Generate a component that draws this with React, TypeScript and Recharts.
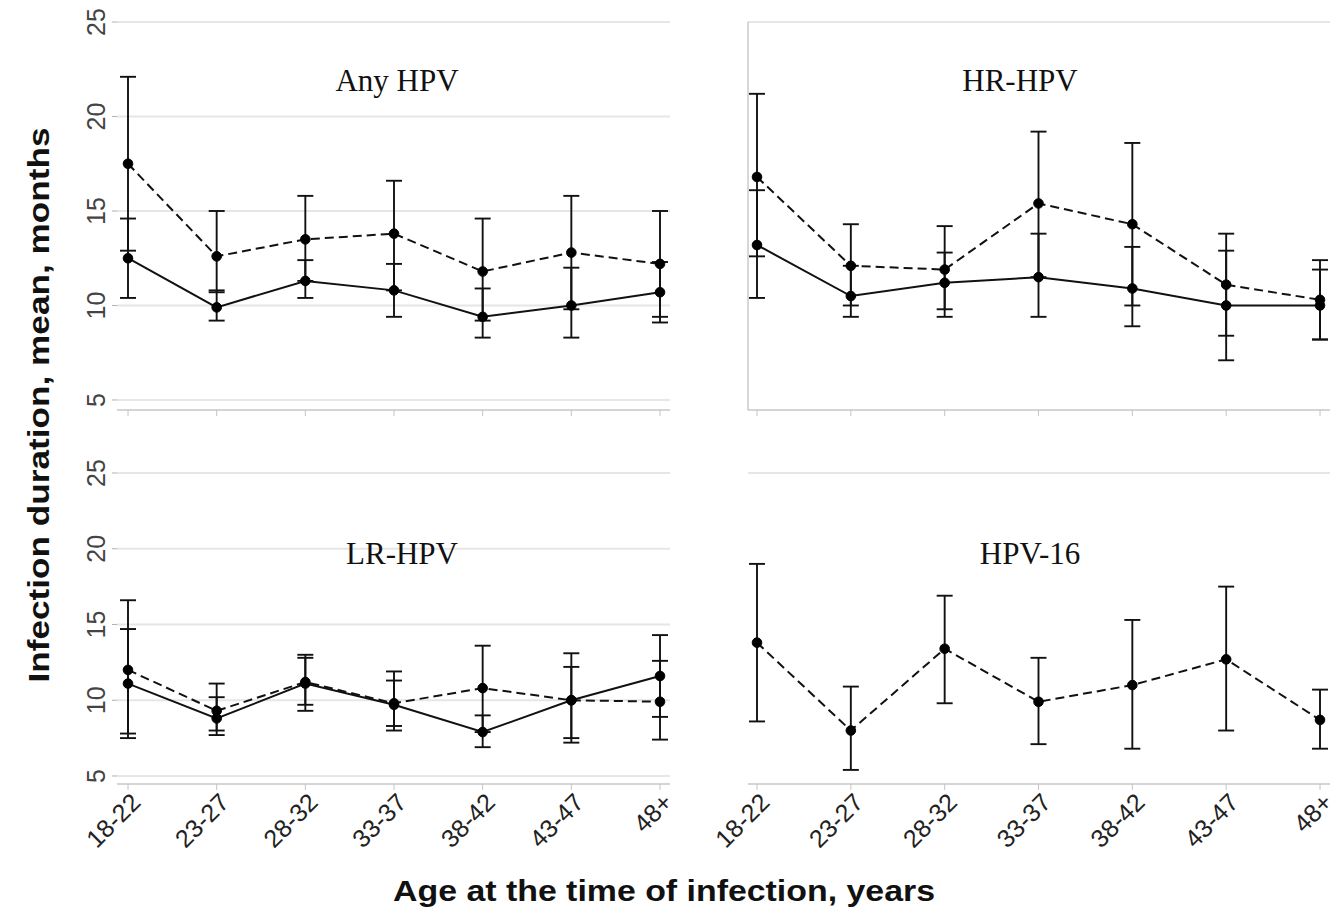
import React from 'react';
import { LineChart, Line, XAxis, YAxis, CartesianGrid, ErrorBar } from 'recharts';

const ageGroups = ['18-22', '23-27', '28-32', '33-37', '38-42', '43-47', '48+'];
const yTicks = [5, 10, 15, 20, 25];

// Any HPV
const anySolid = [12.5, 9.9, 11.3, 10.8, 9.4, 10.0, 10.7];
const anySolidLow = [10.4, 9.2, 10.4, 9.4, 8.3, 8.3, 9.1];
const anySolidHigh = [14.6, 10.8, 12.4, 12.2, 10.9, 12.0, 12.3];
const anyDashed = [17.5, 12.6, 13.5, 13.8, 11.8, 12.8, 12.2];
const anyDashedLow = [12.9, 10.7, 11.3, 10.8, 9.2, 9.8, 9.4];
const anyDashedHigh = [22.1, 15.0, 15.8, 16.6, 14.6, 15.8, 15.0];

// HR-HPV
const hrSolid = [13.2, 10.5, 11.2, 11.5, 10.9, 10.0, 10.0];
const hrSolidLow = [10.4, 9.4, 9.8, 9.4, 8.9, 7.1, 8.2];
const hrSolidHigh = [16.1, 12.1, 12.8, 13.8, 13.1, 12.9, 11.9];
const hrDashed = [16.8, 12.1, 11.9, 15.4, 14.3, 11.1, 10.3];
const hrDashedLow = [12.6, 10.0, 9.4, 11.5, 10.0, 8.4, 8.2];
const hrDashedHigh = [21.2, 14.3, 14.2, 19.2, 18.6, 13.8, 12.4];

// LR-HPV
const lrSolid = [11.1, 8.8, 11.1, 9.7, 7.9, 10.0, 11.6];
const lrSolidLow = [7.5, 7.7, 9.7, 8.3, 6.9, 7.2, 8.9];
const lrSolidHigh = [14.7, 10.2, 12.8, 11.3, 9.0, 12.2, 14.3];
const lrDashed = [12.0, 9.3, 11.2, 9.8, 10.8, 10.0, 9.9];
const lrDashedLow = [7.8, 8.0, 9.3, 8.0, 7.9, 7.5, 7.4];
const lrDashedHigh = [16.6, 11.1, 13.0, 11.9, 13.6, 13.1, 12.6];

// HPV-16
const h16Dashed = [13.8, 8.0, 13.4, 9.9, 11.0, 12.7, 8.7];
const h16DashedLow = [8.6, 5.4, 9.8, 7.1, 6.8, 8.0, 6.8];
const h16DashedHigh = [19.0, 10.9, 16.9, 12.8, 15.3, 17.5, 10.7];

type Row = Record<string, any>;

function buildRows(
  solid: number[] | null,
  solidLow: number[] | null,
  solidHigh: number[] | null,
  dashed: number[],
  dashedLow: number[],
  dashedHigh: number[]
): Row[] {
  return ageGroups.map((age, i) => {
    const row: Row = {
      age,
      dashed: dashed[i],
      dashedErr: [dashed[i] - dashedLow[i], dashedHigh[i] - dashed[i]],
    };
    if (solid && solidLow && solidHigh) {
      row.solid = solid[i];
      row.solidErr = [solid[i] - solidLow[i], solidHigh[i] - solid[i]];
    }
    return row;
  });
}

const anyRows = buildRows(anySolid, anySolidLow, anySolidHigh, anyDashed, anyDashedLow, anyDashedHigh);
const hrRows = buildRows(hrSolid, hrSolidLow, hrSolidHigh, hrDashed, hrDashedLow, hrDashedHigh);
const lrRows = buildRows(lrSolid, lrSolidLow, lrSolidHigh, lrDashed, lrDashedLow, lrDashedHigh);
const h16Rows = buildRows(null, null, null, h16Dashed, h16DashedLow, h16DashedHigh);

const sans = 'Liberation Sans, Arial, sans-serif';
const serif = 'Liberation Serif, Times New Roman, serif';

const renderYLabel = (props: any) => {
  const { x, y, payload } = props;
  const bx = x - 5;
  return (
    <text
      key={`y-${payload.value}`}
      x={bx}
      y={y}
      transform={`rotate(-90 ${bx} ${y})`}
      textAnchor="middle"
      style={{ fontSize: 25, fontFamily: sans }}
      fill="#444"
    >
      {payload.value}
    </text>
  );
};

const renderAgeLabel = (props: any) => {
  const { x, y, payload } = props;
  const tx = x + 1;
  const ty = y - 1;
  return (
    <text
      key={`x-${payload.value}`}
      x={tx}
      y={ty}
      transform={`rotate(-45 ${tx} ${ty})`}
      textAnchor="end"
      dominantBaseline="hanging"
      style={{ fontSize: 25, fontFamily: sans }}
      fill="#222"
    >
      {payload.value}
    </text>
  );
};

type PanelProps = {
  rows: Row[];
  left: number;
  top: number;
  width: number;
  height: number;
  marginTop: number;
  marginRight: number;
  yWidth: number;
  xHeight: number;
  showYLabels: boolean;
  showXLabels: boolean;
  showYLine: boolean;
  padLeft: number;
  padRight: number;
  hasSolid: boolean;
};

function Panel(p: PanelProps) {
  return (
    <div style={{ position: 'absolute', left: p.left, top: p.top }}>
      <LineChart
        width={p.width}
        height={p.height}
        data={p.rows}
        margin={{ top: p.marginTop, right: p.marginRight, left: 0, bottom: 0 }}
      >
        <CartesianGrid vertical={false} stroke="#e6e6e6" strokeWidth={2} />
        <XAxis
          dataKey="age"
          height={p.xHeight}
          padding={{ left: p.padLeft, right: p.padRight }}
          stroke="#c4c4c4"
          tickSize={6}
          interval={0}
          tick={p.showXLabels ? renderAgeLabel : undefined}
          tickFormatter={p.showXLabels ? undefined : () => ''}
        />
        <YAxis
          width={p.yWidth}
          domain={[4.47, 25]}
          ticks={yTicks}
          axisLine={p.showYLine ? { stroke: '#b0b0b0' } : false}
          tickLine={{ stroke: '#b0b0b0' }}
          tickSize={5}
          tick={p.showYLabels ? renderYLabel : false}
          allowDataOverflow
        />
        {p.hasSolid && (
          <Line
            dataKey="solid"
            type="linear"
            stroke="#111"
            strokeWidth={2}
            dot={{ r: 4.8, fill: '#000', stroke: '#000', strokeWidth: 1 }}
            activeDot={false}
            isAnimationActive={false}
          >
            <ErrorBar dataKey="solidErr" direction="y" width={8} stroke="#111" strokeWidth={1.9} isAnimationActive={false} />
          </Line>
        )}
        <Line
          dataKey="dashed"
          type="linear"
          stroke="#111"
          strokeWidth={2}
          strokeDasharray="9 5"
          dot={{ r: 4.8, fill: '#000', stroke: '#000', strokeWidth: 1, strokeDasharray: '0' }}
          activeDot={false}
          isAnimationActive={false}
        >
          <ErrorBar dataKey="dashedErr" direction="y" width={8} stroke="#111" strokeWidth={1.9} isAnimationActive={false} />
        </Line>
      </LineChart>
    </div>
  );
}

export default function App() {
  return (
    <div
      style={{
        position: 'absolute',
        left: 0,
        top: 0,
        width: 1337,
        height: 914,
        background: '#fff',
        overflow: 'hidden',
      }}
    >
      <Panel
        rows={anyRows}
        left={0}
        top={0}
        width={680}
        height={440}
        marginTop={22}
        marginRight={10}
        yWidth={117}
        xHeight={30}
        showYLabels
        showXLabels={false}
        showYLine={false}
        padLeft={11}
        padRight={10}
        hasSolid
      />
      <Panel
        rows={hrRows}
        left={680}
        top={0}
        width={657}
        height={440}
        marginTop={22}
        marginRight={7}
        yWidth={68}
        xHeight={30}
        showYLabels={false}
        showXLabels={false}
        showYLine
        padLeft={9}
        padRight={10}
        hasSolid
      />
      <Panel
        rows={lrRows}
        left={0}
        top={440}
        width={680}
        height={430}
        marginTop={33}
        marginRight={10}
        yWidth={117}
        xHeight={86}
        showYLabels
        showXLabels
        showYLine={false}
        padLeft={11}
        padRight={10}
        hasSolid
      />
      <Panel
        rows={h16Rows}
        left={680}
        top={440}
        width={657}
        height={430}
        marginTop={33}
        marginRight={7}
        yWidth={68}
        xHeight={86}
        showYLabels={false}
        showXLabels
        showYLine={false}
        padLeft={9}
        padRight={10}
        hasSolid={false}
      />
      <svg
        width={1337}
        height={914}
        style={{ position: 'absolute', left: 0, top: 0, pointerEvents: 'none' }}
      >
        <text x={397} y={91} textAnchor="middle" fontSize={31} fontFamily={serif} fill="#111">
          Any HPV
        </text>
        <text x={1020} y={91} textAnchor="middle" fontSize={31} fontFamily={serif} fill="#111">
          HR-HPV
        </text>
        <text x={402} y={564} textAnchor="middle" fontSize={31} fontFamily={serif} fill="#111">
          LR-HPV
        </text>
        <text x={1030} y={564} textAnchor="middle" fontSize={31} fontFamily={serif} fill="#111">
          HPV-16
        </text>
        <text
          x={49}
          y={405}
          transform="rotate(-90 49 405)"
          textAnchor="middle"
          fontSize={30}
          fontWeight="bold"
          fontFamily={sans}
          fill="#111"
          textLength={555}
          lengthAdjust="spacingAndGlyphs"
        >
          Infection duration, mean, months
        </text>
        <text
          x={664}
          y={901}
          textAnchor="middle"
          fontSize={30}
          fontWeight="bold"
          fontFamily={sans}
          fill="#111"
          textLength={542}
          lengthAdjust="spacingAndGlyphs"
        >
          Age at the time of infection, years
        </text>
      </svg>
    </div>
  );
}
